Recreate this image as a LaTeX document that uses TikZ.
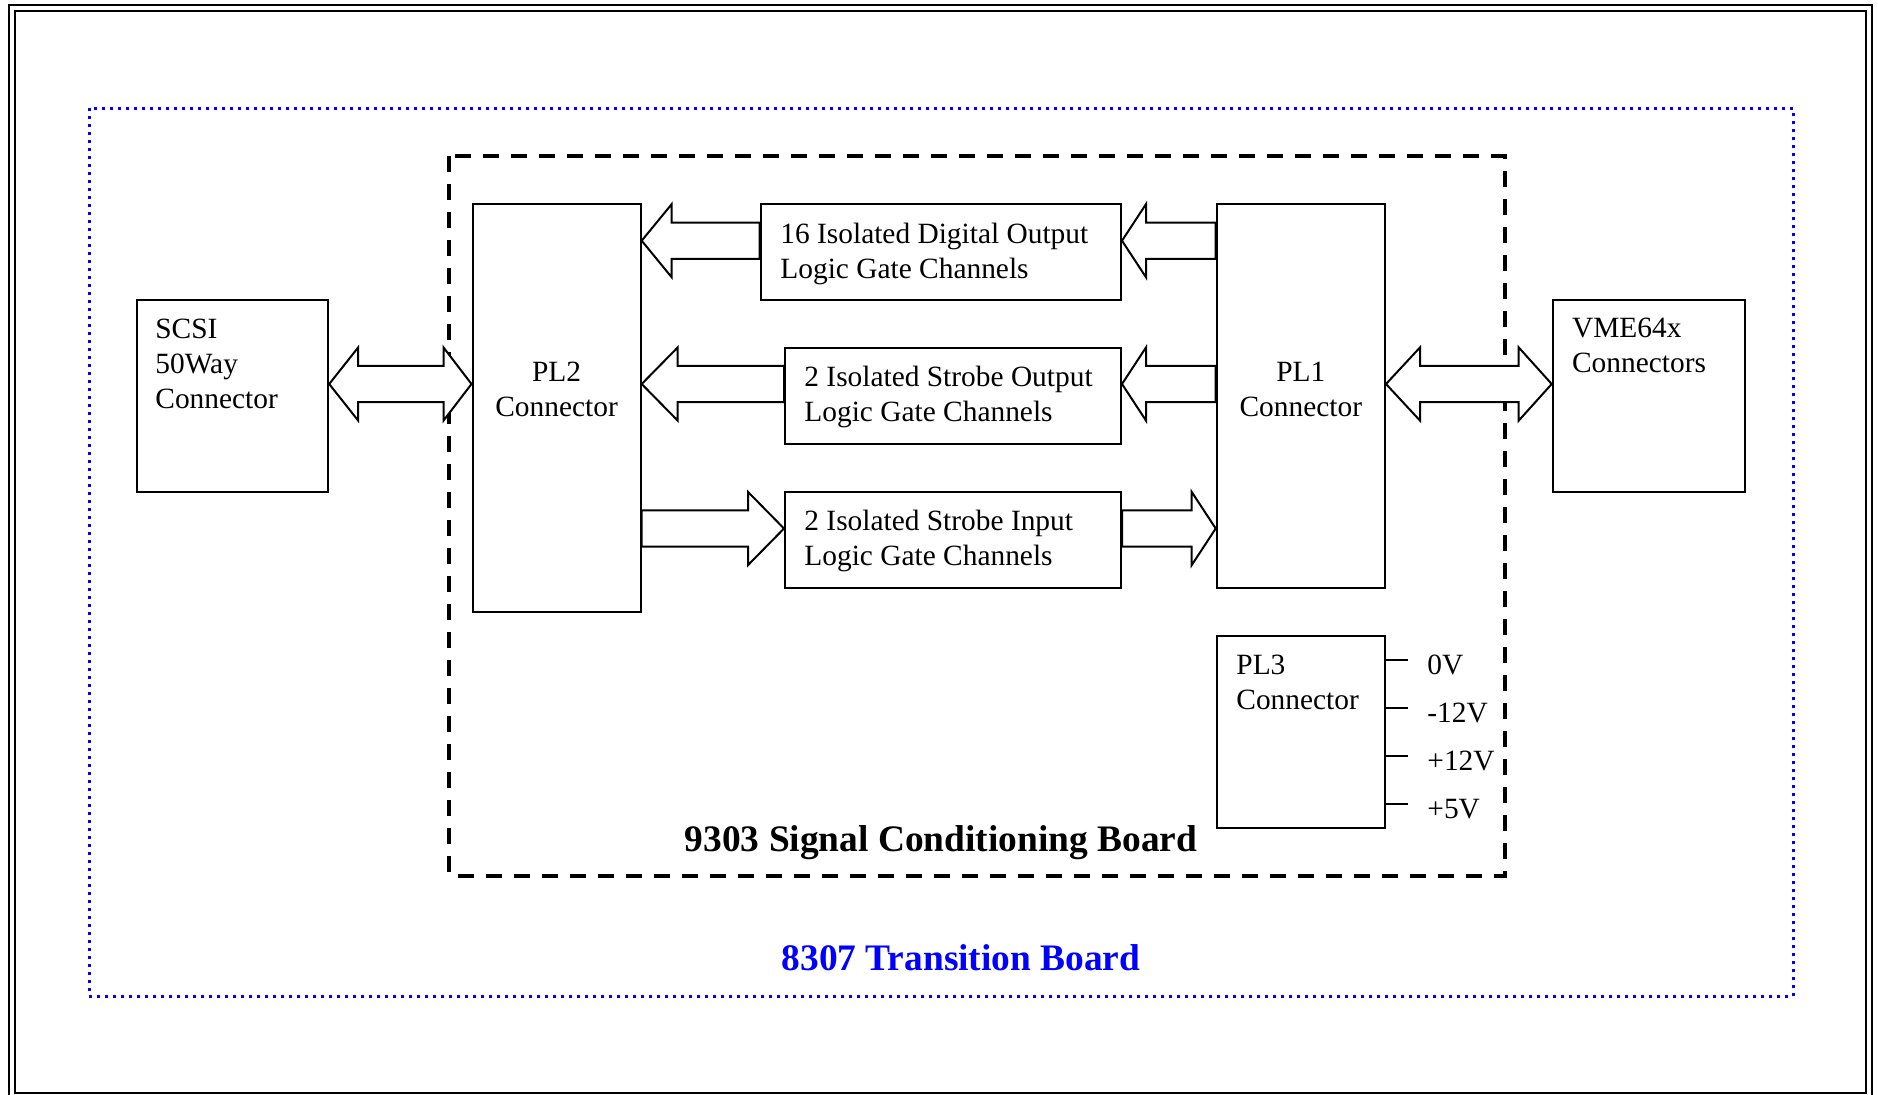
\documentclass[tikz,border=0pt]{standalone}
\usepackage{fontspec}
\setmainfont{Liberation Serif}
\usetikzlibrary{calc,fit,positioning}
\tikzset{>=latex}

% text lines, baseline at the first line
\newcommand{\llines}[1]{\begin{tabular}[t]{@{}l@{}}#1\end{tabular}}
\newcommand{\clines}[1]{\begin{tabular}[t]{@{}c@{}}#1\end{tabular}}

% hollow block arrow: tail, tip, head length
\newcommand{\fatarrow}[3]{%
  \draw[arrow style] let \p1=(#1), \p2=(#2), \p3=($(#2)!#3!(#1)$) in
    (\x1,\y1+9.1pt) -- (\x3,\y1+9.1pt) -- (\x3,\y1+18.3pt) -- (\x2,\y2)
    -- (\x3,\y1-18.3pt) -- (\x3,\y1-9.1pt) -- (\x1,\y1-9.1pt) -- cycle;}
% hollow block arrow with two heads
\newcommand{\fatdoublearrow}[4]{%
  \draw[arrow style] let \p1=(#1), \p2=(#2), \p3=($(#1)!#3!(#2)$), \p4=($(#2)!#4!(#1)$) in
    (\x1,\y1) -- (\x3,\y1+18.3pt) -- (\x3,\y1+9.1pt) -- (\x4,\y1+9.1pt) -- (\x4,\y1+18.3pt) -- (\x2,\y2)
    -- (\x4,\y1-18.3pt) -- (\x4,\y1-9.1pt) -- (\x3,\y1-9.1pt) -- (\x3,\y1-18.3pt) -- cycle;}

\begin{document}
\begin{tikzpicture}[x=0.5pt,y=-0.5pt]

        % Setup the styles
        \tikzset{box style/.style={draw, line width=1pt, inner sep=0pt},
                 text style/.style={font=\fontsize{14.7pt}{17.5pt}\selectfont,
                                    inner sep=0pt, anchor=base west},
                 title style/.style={font=\bfseries\fontsize{18.7pt}{22pt}\selectfont,
                                    inner sep=0pt, anchor=base},
                 arrow style/.style={draw, line width=1pt, fill=white, line join=miter}}
        \useasboundingbox (0,0) rectangle (1878,1094);

        % Page frame
        \draw[line width=1pt] (9,5) rectangle (1872,1100);
        \draw[line width=1pt] (15,11) rectangle (1866,1093);

        % Boards
        \draw[blue, line width=1.5pt, dash pattern=on 1.5pt off 2.5pt] (89,108) rectangle (1793,996);
        \draw[line width=2pt, dash pattern=on 8pt off 6pt] (449,156) rectangle (1504.5,875.5);
        \node[title style, text=blue] (trans) at (961,970) {8307 Transition Board};
        \node[title style] (cond) at (941,851) {9303 Signal Conditioning Board};

        % Draw the boxes
        \node[box style, fit={(136.5,300) (328.2,491.5)}]   (scsi)    {};
        \node[box style, fit={(472.5,204) (640.7,612)}]     (pltwo)   {};
        \node[box style, fit={(760.6,204) (1121,300)}]      (digout)  {};
        \node[box style, fit={(785,348.4) (1121,444.2)}]    (strout)  {};
        \node[box style, fit={(785,492.3) (1121,588.3)}]    (strin)   {};
        \node[box style, fit={(1216.7,204) (1385,588.3)}]   (plone)   {};
        \node[box style, fit={(1552.7,300) (1745,491.5)}]   (vme)     {};
        \node[box style, fit={(1216.7,636) (1385,828)}]     (plthree) {};

        % Box texts
        \node[text style] (scsi-t) at ([shift={(19.5,39)}]scsi.north west) {\llines{SCSI\\50Way\\Connector}};
        \node[text style, anchor=base] (pltwo-t) at ([shift={(0,178.5)}]pltwo.north) {\clines{PL2\\Connector}};
        \node[text style] (digout-t) at ([shift={(20.4,40)}]digout.north west) {\llines{16 Isolated Digital Output\\Logic Gate Channels}};
        \node[text style] (strout-t) at ([shift={(20,39.3)}]strout.north west) {\llines{2 Isolated Strobe Output\\Logic Gate Channels}};
        \node[text style] (strin-t) at ([shift={(20,39.3)}]strin.north west) {\llines{2 Isolated Strobe Input\\Logic Gate Channels}};
        \node[text style, anchor=base] (plone-t) at ([shift={(0,178.5)}]plone.north) {\clines{PL1\\Connector}};
        \node[text style] (vme-t) at ([shift={(20,38.7)}]vme.north west) {\llines{VME64x\\Connectors}};
        \node[text style] (plthree-t) at ([shift={(20.3,39.5)}]plthree.north west) {\llines{PL3\\Connector}};

        % Arrow rows
        \coordinate (row1) at (0,240.7);
        \coordinate (row2) at (0,384);
        \coordinate (row3) at (0,528.5);

        % Connect the boxes with block arrows
        \fatdoublearrow{scsi.east |- row2}{pltwo.west |- row2}{14.5pt}{14pt}
        \fatarrow{digout.west |- row1}{pltwo.east |- row1}{15pt}
        \fatarrow{strout.west |- row2}{pltwo.east |- row2}{18pt}
        \fatarrow{pltwo.east |- row3}{strin.west |- row3}{18pt}
        \fatarrow{plone.west |- row1}{digout.east |- row1}{12pt}
        \fatarrow{plone.west |- row2}{strout.east |- row2}{12pt}
        \fatarrow{strin.east |- row3}{plone.west |- row3}{12pt}
        \fatdoublearrow{plone.east |- row2}{vme.west |- row2}{17pt}{16.5pt}

        % Supply pins of PL3
        \foreach \y/\v/\n in {660/0V/a, 708/-12V/b, 756/+12V/c, 803.5/+5V/d} {
            \coordinate (pin\n) at (1408,\y);
            \draw[line width=1pt] (plthree.east |- pin\n) -- (pin\n);
            \node[text style] (volt\n) at ([shift={(19,14.5)}]pin\n) {\v};
        }
\end{tikzpicture}
\end{document}
